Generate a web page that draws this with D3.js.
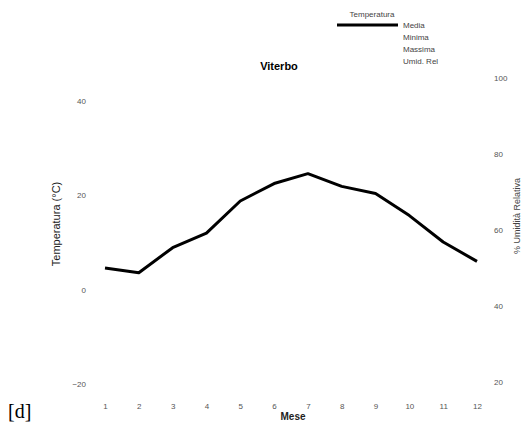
<!DOCTYPE html>
<html><head><meta charset="utf-8">
<script src="https://cdn.jsdelivr.net/npm/d3@7/dist/d3.min.js"></script>
<style>body{margin:0;background:#fff}svg{display:block}</style>
</head><body>
<svg id="c" width="521" height="433"></svg>
<script>
const months = [1,2,3,4,5,6,7,8,9,10,11,12];
const tempMedia = [4.6,3.6,8.9,12.0,18.8,22.5,24.6,21.9,20.4,15.7,10.1,6.0];
const leftTicks = [-20,0,20,40];
const rightTicks = [20,40,60,80,100];
const legendLabels = ["Media","Minima","Massima","Umid. Rel"];

const svg = d3.select("#c");
const x = d3.scaleLinear().domain([1,12]).range([105,477]);
const y = d3.scaleLinear().domain([-20,40]).range([384,101]);
const y2 = d3.scaleLinear().domain([20,100]).range([382,78]);
const font = "Liberation Sans, Arial, sans-serif";

const tickStyle = g => {
  g.select(".domain").remove();
  g.selectAll(".tick line").remove();
  g.selectAll(".tick text").attr("fill","#555").style("font-family",font).style("font-size","8px");
};

svg.append("g").attr("transform","translate(0,403)")
  .call(d3.axisBottom(x).tickValues(months).tickFormat(d3.format("d")).tickSize(0).tickPadding(0))
  .call(tickStyle);
svg.append("g").attr("transform","translate(86,0)")
  .call(d3.axisLeft(y).tickValues(leftTicks).tickSize(0).tickPadding(0))
  .call(tickStyle);
svg.append("g").attr("transform","translate(494,0)")
  .call(d3.axisRight(y2).tickValues(rightTicks).tickSize(0).tickPadding(0))
  .call(tickStyle);

const line = d3.line().x((d,i)=>x(months[i])).y(d=>y(d));
svg.append("path").datum(tempMedia).attr("d",line)
  .attr("fill","none").attr("stroke","#000").attr("stroke-width",3).attr("stroke-linejoin","round");

svg.append("text").attr("x",279).attr("y",70).attr("text-anchor","middle")
  .style("font-family",font).style("font-size","11px").style("font-weight","bold").text("Viterbo");
svg.append("text").attr("x",293).attr("y",420).attr("text-anchor","middle")
  .style("font-family",font).style("font-size","10px").style("font-weight","bold").attr("fill","#222").text("Mese");
svg.append("text").attr("transform","translate(60,224) rotate(-90)").attr("text-anchor","middle")
  .style("font-family",font).style("font-size","11px").attr("fill","#222").text("Temperatura (°C)");
svg.append("text").attr("transform","translate(520,216) rotate(-90)").attr("text-anchor","middle")
  .style("font-family",font).style("font-size","9px").attr("fill","#444").text("% Umidità Relativa");

// legend
const lg = svg.append("g");
lg.append("text").attr("x",372).attr("y",17).attr("text-anchor","middle")
  .style("font-family",font).style("font-size","8px").attr("fill","#444").text("Temperatura");
legendLabels.forEach((l,i)=>{
  lg.append("text").attr("x",403).attr("y",28+i*12)
    .style("font-family",font).style("font-size","8px").attr("fill","#444").text(l);
});
lg.append("line").attr("x1",337).attr("x2",398).attr("y1",25).attr("y2",25)
  .attr("stroke","#000").attr("stroke-width",3);

svg.append("text").attr("x",8).attr("y",418)
  .style("font-family","Liberation Serif, Times New Roman, serif").style("font-size","20px").text("[d]");
</script>
</body></html>
